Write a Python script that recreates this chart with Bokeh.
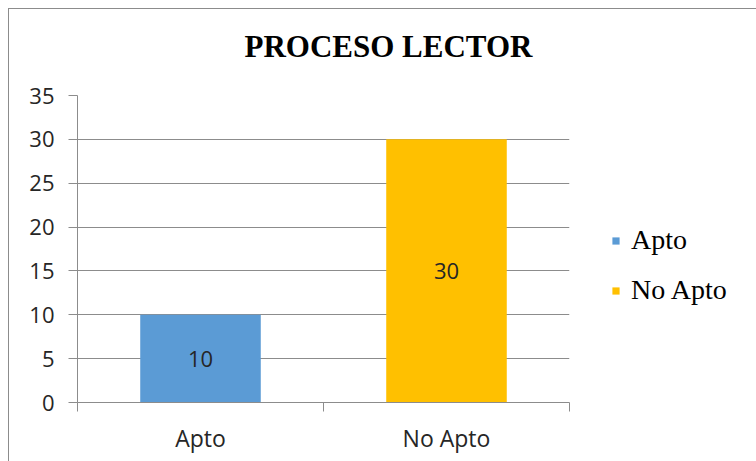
from bokeh.plotting import figure
from bokeh.models import ColumnDataSource, LabelSet, Range1d, FixedTicker, Title
from bokeh.core.properties import value
from bokeh.embed import file_html
from bokeh.resources import INLINE

# ---- data ----
categories = ["Apto", "No Apto"]
values = [10, 30]
y_ticks = [0, 5, 10, 15, 20, 25, 30, 35]
title_text = "PROCESO LECTOR"
colors = ["#5B9BD5", "#FFC000"]

GRID = "#8c8c8c"
TXT = "#262626"

n = len(categories)
centers = [i + 0.5 for i in range(n)]
edges = [float(i) for i in range(n + 1)]

src = ColumnDataSource(dict(
    x=centers,
    cats=categories,
    vals=values,
    mid=[v / 2 for v in values],
    lbl=[str(v) for v in values],
    color=colors,
))

p = figure(
    x_range=Range1d(0, n),
    y_range=Range1d(0, max(y_ticks)),
    frame_width=492, frame_height=307,
    min_border_left=68, min_border_right=186, min_border_top=86, min_border_bottom=59,
    output_backend="svg", toolbar_location=None,
    styles={"border-top": "1px solid #8c8c8c", "border-left": "1px solid #8c8c8c",
            "margin-left": "8px", "margin-top": "8px"},
)
p.outline_line_color = None
p.background_fill_color = "white"
p.border_fill_color = "white"

p.title = Title(text=title_text, align="left", offset=167, standoff=10,
                text_font="Liberation Serif", text_font_style="bold",
                text_font_size="31px", text_color="black")
# spacer between title and plot area
p.add_layout(Title(text=" ", text_font_size="1px", standoff=24), "above")

p.vbar(x="x", top="vals", width=0.49, source=src, fill_color="color",
       line_color=None, legend_field="cats")

# bar value labels
p.add_layout(LabelSet(x="x", y="mid", text="lbl", source=src, text_align="center",
                      text_baseline="middle", text_font=value("Open Sans"),
                      text_font_size=value("22px"), text_color=TXT))

# y axis
ya = p.yaxis[0]
ya.ticker = FixedTicker(ticks=y_ticks)
ya.axis_line_color = GRID
ya.major_tick_line_color = GRID
ya.major_tick_in = 0
ya.major_tick_out = 9
ya.minor_tick_line_color = None
ya.major_label_standoff = 14
ya.major_label_text_font = "Open Sans"
ya.major_label_text_font_size = "22px"
ya.major_label_text_color = TXT

p.ygrid.ticker = FixedTicker(ticks=y_ticks)
p.ygrid.grid_line_color = GRID
p.xgrid.grid_line_color = None

# x axis: labels at category centres, ticks at category edges
xa = p.xaxis[0]
xa.ticker = FixedTicker(ticks=centers, minor_ticks=edges)
xa.major_label_overrides = {c: cat for c, cat in zip(centers, categories)}
xa.axis_line_color = GRID
xa.major_tick_line_color = None
xa.major_tick_in = 0
xa.major_tick_out = 0
xa.minor_tick_line_color = GRID
xa.minor_tick_in = 0
xa.minor_tick_out = 9
xa.major_label_standoff = 10
xa.major_label_text_font = "Open Sans"
xa.major_label_text_font_size = "23px"
xa.major_label_text_color = TXT

# legend in the right panel
lg = p.legend[0]
p.center.remove(lg)
p.add_layout(lg, "right")
lg.location = (42, 96)
lg.orientation = "vertical"
lg.background_fill_alpha = 0
lg.border_line_color = None
lg.glyph_width = 9
lg.glyph_height = 9
lg.label_height = 30
lg.spacing = 18
lg.padding = 10
lg.margin = 0
lg.label_standoff = 11
lg.label_text_font = "Liberation Serif"
lg.label_text_font_size = "28px"
lg.label_text_color = "black"

open("out.html", "w").write(file_html(p, INLINE))
